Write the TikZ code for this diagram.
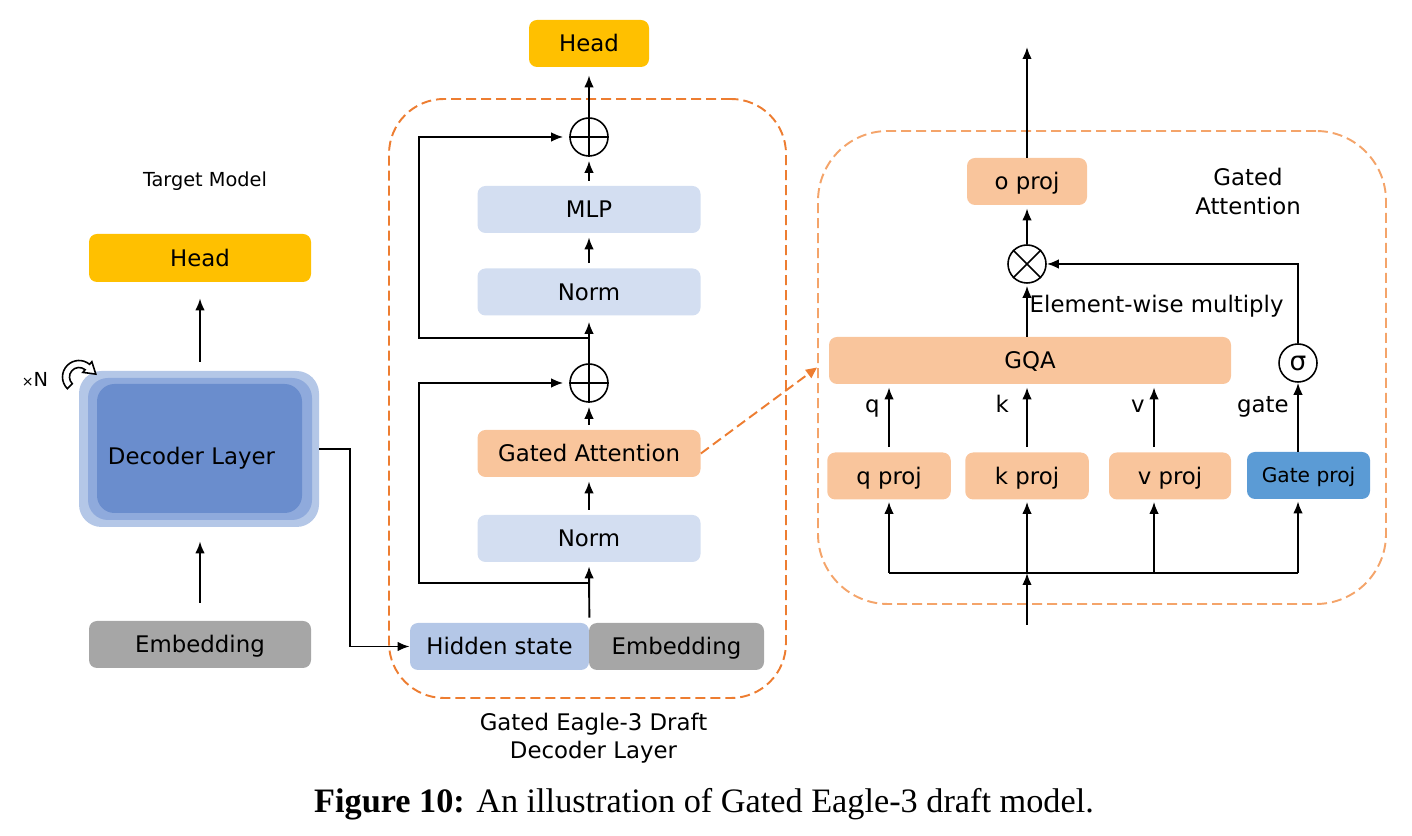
\documentclass[tikz,border=0pt]{standalone}
\usepackage{fontspec}
\setmainfont{DejaVu Sans}
\newfontfamily\capfont{Liberation Serif}
\usetikzlibrary{calc, positioning, arrows.meta}

\definecolor{headyellow}{HTML}{FFC000}
\definecolor{normblue}{HTML}{D3DEF1}
\definecolor{hidblue}{HTML}{B4C7E7}
\definecolor{embgray}{HTML}{A6A6A6}
\definecolor{attpeach}{HTML}{F9C59C}
\definecolor{gateblue}{HTML}{5B9BD5}
\definecolor{decdark}{HTML}{6A8DCD}
\definecolor{decmid}{HTML}{8FAADC}
\definecolor{declight}{HTML}{B4C7E7}
\definecolor{dashorange}{HTML}{ED7D31}
\definecolor{dashlight}{HTML}{F4A46A}

\begin{document}
\begin{tikzpicture}[>={Latex[length=0.24cm,width=0.19cm]},
    blk/.style={rectangle, rounded corners=0.16cm, inner sep=0pt, minimum height=0.94cm,
        text height=9.5pt, text depth=0pt, font=\fontsize{13}{16}\selectfont},
    headbox/.style={blk, fill=headyellow},
    normbox/.style={blk, fill=normblue, minimum width=4.46cm},
    attbox/.style={blk, fill=attpeach},
    projbox/.style={attbox, minimum width=2.47cm},
    opnode/.style={circle, draw, line width=0.9pt, minimum size=0.76cm, inner sep=0pt},
    arr/.style={->, line width=1.1pt, shorten <=0.1cm, shorten >=0.08cm},
    wire/.style={line width=1.1pt},
    frame/.style={rectangle, draw, dash pattern=on 0.2cm off 0.1cm, line width=1.1pt, inner sep=0pt},
    txt/.style={inner sep=1pt, text height=9.5pt, text depth=0pt, font=\fontsize{13}{16}\selectfont},
    sym/.style={text height=9.9pt, text depth=3.1pt, font=\fontsize{13}{16}\selectfont},
    lbl/.style={align=center, font=\fontsize{13}{16}\selectfont}
]
\useasboundingbox (0,0) rectangle (28.24,16.72);

\node[txt, text height=8pt, font=\fontsize{11}{13}\selectfont] (tgt) at (4.10,13.14) {Target Model};
\node[headbox, minimum width=4.44cm, minimum height=0.96cm] (headL) at (4.00,11.56) {Head};
\node[blk, fill=declight, minimum width=4.80cm, minimum height=3.12cm, rounded corners=0.45cm] (dec) at (3.98,7.74) {};
\node[blk, fill=decmid, minimum width=4.48cm, minimum height=2.84cm, rounded corners=0.4cm] (dec2) at (4.00,7.74) {};
\node[blk, fill=decdark, minimum width=4.10cm, minimum height=2.58cm, rounded corners=0.35cm] (dec3) at (3.99,7.75) {};
\node[txt] (declbl) at (3.83,7.59) {Decoder Layer};
\node[blk, fill=embgray, minimum width=4.44cm] (embL) at (4.00,3.83) {Embedding};
\node[txt, text height=8pt, font=\fontsize{11}{13}\selectfont] (rep) at (0.70,9.14) {{\fontsize{8}{9}\selectfont ×}N};
\begin{scope}[shift={(1.58,9.18)}]
    \draw[line width=0.9pt, fill=white] (225:0.33) arc[start angle=225, end angle=50, radius=0.33]
        -- (50:0.40) -- ($(50:0.26)+(-40:0.22)$) -- (50:0.12) -- (50:0.19)
        arc[start angle=50, end angle=225, radius=0.19] -- cycle;
\end{scope}

\draw[arr, shorten <=0.36cm, shorten >=0.28cm] (embL.north) -- (embL.north |- dec.south);
\draw[arr, shorten <=0.18cm, shorten >=0.32cm] (headL.south |- dec.north) -- (headL.south);

\node[frame, draw=dashorange, rounded corners=1.1cm, minimum width=7.94cm, minimum height=11.98cm] (midbox) at (11.75,8.75) {};
\node[headbox, minimum width=2.40cm] (headM) at (11.78,15.85) {Head};
\node[opnode] (plus1) at (11.78,13.98) {};
\node[normbox] (mlp) at (11.78,12.53) {MLP};
\node[normbox] (norm1) at (11.78,10.88) {Norm};
\node[opnode] (plus2) at (11.78,9.06) {};
\node[attbox, minimum width=4.46cm] (gatt) at (11.78,7.65) {Gated Attention};
\node[normbox] (norm2) at (11.78,5.95) {Norm};
\node[blk, fill=hidblue, minimum width=3.58cm] (hid) at (9.99,3.79) {Hidden state};
\node[blk, fill=embgray, minimum width=3.50cm] (embM) at (13.53,3.79) {Embedding};
\node[lbl] (midlbl) at (11.87,1.96) {Gated Eagle-3 Draft\\Decoder Layer};

\draw[line width=0.9pt] (plus1.north) -- (plus1.south) (plus1.west) -- (plus1.east);
\draw[line width=0.9pt] (plus2.north) -- (plus2.south) (plus2.west) -- (plus2.east);

\draw[arr, shorten <=0pt, shorten >=0.16cm] (plus1.north) -- (headM.south);
\draw[arr] (mlp.north) -- (plus1.south);
\draw[arr] (norm1.north) -- (mlp.south);
\draw[arr, shorten <=0pt, shorten >=0.12cm] (plus2.north) -- (norm1.south);
\draw[arr] (gatt.north) -- (plus2.south);
\draw[arr] (norm2.north) -- (gatt.south);
\draw[arr] (hid.north east) -- (norm2.south);
\coordinate (j1) at (11.78,9.96);
\coordinate (j2) at (11.78,5.06);
\draw[wire, ->, shorten >=0.12cm] (j1) -- ++(-3.40,0) |- (plus1.west);
\draw[wire, ->, shorten >=0.12cm] (j2) -- ++(-3.40,0) |- (plus2.west);
\draw[wire, ->] (dec.east) -- ++(0.62,0) |- (hid.west);

\node[frame, draw=dashlight, rounded corners=1.4cm, minimum width=11.36cm, minimum height=9.46cm] (gabox) at (22.04,9.37) {};
\node[lbl] (galbl) at (24.96,12.89) {Gated\\Attention};
\node[projbox, minimum width=2.40cm] (oproj) at (20.54,13.09) {o proj};
\node[opnode] (times) at (20.54,11.44) {};
\node[attbox, minimum width=8.04cm] (gqa) at (20.60,9.51) {GQA};
\node[opnode, font=\fontsize{15}{18}\selectfont] (sigma) at (25.96,9.46) {σ};
\node[projbox] (qproj) at (17.78,7.20) {q proj};
\node[projbox] (kproj) at (20.54,7.20) {k proj};
\node[projbox, minimum width=2.44cm] (vproj) at (23.40,7.20) {v proj};
\node[blk, fill=gateblue, minimum width=2.46cm, text height=8.4pt, font=\fontsize{11.5}{14}\selectfont] (gproj) at (26.17,7.21) {Gate proj};
\coordinate (out) at (20.54,15.78);
\coordinate (in) at (20.54,4.22);
\coordinate (bq) at (17.78,5.26);
\coordinate (bk) at (20.54,5.26);
\coordinate (bv) at (23.08,5.26);
\coordinate (bg) at (25.96,5.26);

\draw[line width=0.9pt] (times.north west) -- (times.south east) (times.north east) -- (times.south west);

\draw[arr, shorten <=0pt, shorten >=0pt] (oproj.north) -- (out);
\draw[arr, shorten <=0pt, shorten >=0.06cm] (times.north) -- (oproj.south);
\draw[arr, shorten <=0pt, shorten >=0.04cm] (times |- gqa.north) -- (times.south)
    node[txt, pos=0.62, right] {Element-wise multiply};
\draw[wire, ->] (sigma.north) |- (times.east);
\draw[arr, shorten <=0pt, shorten >=0pt] (bg |- gproj.north) -- (sigma.south)
    node[sym, pos=0.66, left=1.5pt] {gate};
\draw[arr, shorten >=0.06cm] (qproj.north) -- (qproj.north |- gqa.south)
    node[sym, pos=0.67, left=1.5pt] {q};
\draw[arr, shorten >=0.06cm] (kproj.north) -- (kproj.north |- gqa.south)
    node[sym, pos=0.67, left=6.5pt] {k};
\draw[arr, shorten >=0.06cm] (bv |- vproj.north) -- (bv |- gqa.south)
    node[sym, pos=0.67, left=1.5pt] {v};

\draw[wire] (bq) -- (bg);
\draw[arr, shorten <=0pt, shorten >=0pt] (in) -- (bk);
\draw[arr, shorten <=0pt, shorten >=0.04cm] (bq) -- (qproj.south);
\draw[arr, shorten <=0pt, shorten >=0.04cm] (bk) -- (kproj.south);
\draw[arr, shorten <=0pt, shorten >=0.04cm] (bv) -- (bv |- vproj.south);
\draw[arr, shorten <=0pt, shorten >=0.04cm] (bg) -- (bg |- gproj.south);

\draw[dashorange, line width=1.1pt, dash pattern=on 0.2cm off 0.1cm, -{Triangle[length=0.22cm,width=0.2cm]}] (gatt.east) -- (gabox.west);

\node[anchor=base, font=\capfont\fontsize{19.5}{23}\selectfont] (cap) at (14.08,0.47) {\textbf{Figure 10:} An illustration of Gated Eagle-3 draft model.};
\end{tikzpicture}
\end{document}
